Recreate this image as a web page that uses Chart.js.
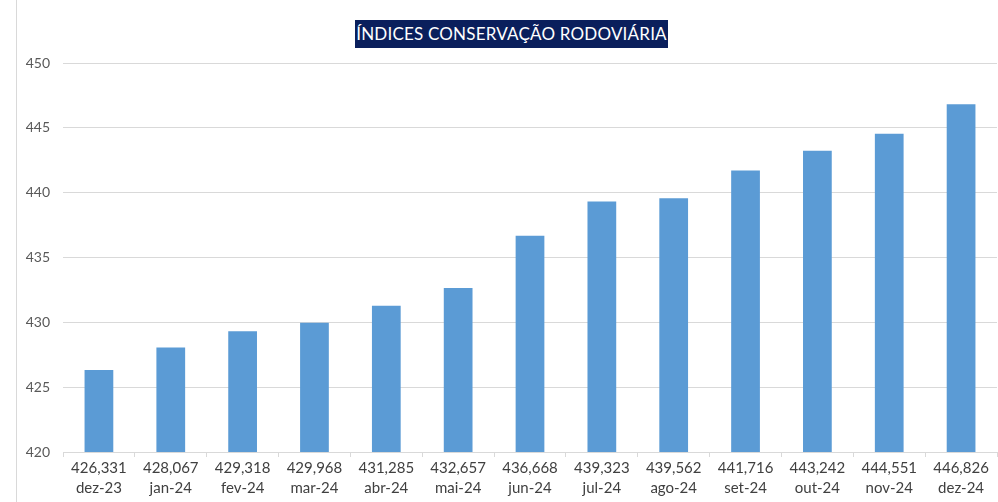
<!DOCTYPE html>
<html>
<head>
<meta charset="utf-8">
<script src="https://cdn.jsdelivr.net/npm/chart.js@4"></script>
<style>
  html, body { margin: 0; padding: 0; background: #fff; }
  #wrap { position: relative; width: 998px; height: 502px; }
  #border { position: absolute; left: 16px; top: 0; bottom: 0; border-left: 1px solid #d9d9d9; }
  #title {
    position: absolute; left: 355px; top: 20px; width: 313px; height: 28px;
    background: #0a1f5c; color: #fff; font-family: Lato, "Open Sans", sans-serif;
    font-size: 17px; line-height: 28px; text-align: center; letter-spacing: 0.2px;
  }
</style>
</head>
<body>
<div id="wrap">
  <div id="border"></div>
  <canvas id="indexChart" width="998" height="502"></canvas>
  <div id="title">ÍNDICES CONSERVAÇÃO RODOVIÁRIA</div>
</div>
<script>
const months = ['dez-23', 'jan-24', 'fev-24', 'mar-24', 'abr-24', 'mai-24', 'jun-24',
  'jul-24', 'ago-24', 'set-24', 'out-24', 'nov-24', 'dez-24'];
const indexValues = [426.331, 428.067, 429.318, 429.968, 431.285, 432.657, 436.668,
  439.323, 439.562, 441.716, 443.242, 444.551, 446.826];
const yTicks = [420, 425, 430, 435, 440, 445, 450];

// rótulo em duas linhas: valor (com vírgula) e mês
const labels = months.map((m, i) => [indexValues[i].toFixed(3).replace('.', ','), m]);

const ctx = document.getElementById('indexChart').getContext('2d');
new Chart(ctx, {
  type: 'bar',
  data: {
    labels: labels,
    datasets: [{
      data: indexValues,
      backgroundColor: '#5b9bd5',
      borderWidth: 0,
      categoryPercentage: 1,
      barPercentage: 0.4
    }]
  },
  options: {
    responsive: false,
    animation: false,
    layout: { padding: { top: 63, right: 1, left: 0, bottom: 0 } },
    plugins: { legend: { display: false }, tooltip: { enabled: false } },
    scales: {
      y: {
        min: yTicks[0],
        max: yTicks[yTicks.length - 1],
        afterBuildTicks: scale => { scale.ticks = yTicks.map(v => ({ value: v })); },
        afterFit: scale => { scale.width = 63; },
        border: { display: false },
        grid: { color: '#d9d9d9', drawTicks: false },
        ticks: {
          padding: 13,
          color: '#595959',
          font: { family: 'Lato, "Open Sans", sans-serif', size: 14 }
        }
      },
      x: {
        afterFit: scale => { scale.height = 50; },
        border: { color: '#d9d9d9' },
        grid: { offset: true, drawOnChartArea: false, tickLength: 5, color: '#d9d9d9' },
        ticks: {
          padding: 1,
          maxRotation: 0,
          autoSkip: false,
          color: '#404040',
          font: { family: 'Lato, "Open Sans", sans-serif', size: 15, lineHeight: 1.33 }
        }
      }
    }
  }
});
</script>
</body>
</html>
